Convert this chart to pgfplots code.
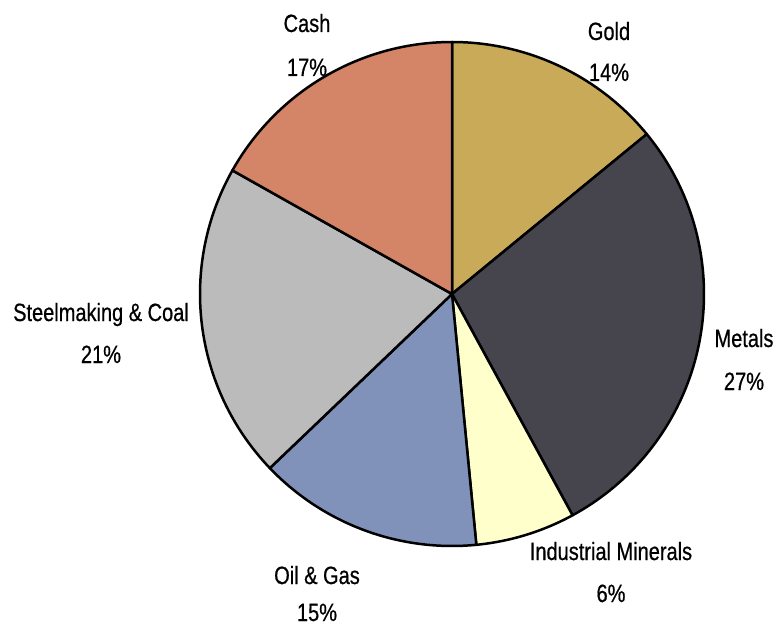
\documentclass[border=0pt]{standalone}
\usepackage{pgfplots}
\pgfplotsset{compat=1.18}
\usepackage{pgfplotstable}
\usepackage{fontspec}
\setmainfont{Liberation Sans}[FakeStretch=0.8, FakeBold=0.6]
\definecolor{cGold}{RGB}{200,170,88}
\definecolor{cMetals}{RGB}{70,69,77}
\definecolor{cInd}{RGB}{255,255,204}
\definecolor{cOil}{RGB}{128,146,185}
\definecolor{cSteel}{RGB}{187,187,187}
\definecolor{cCash}{RGB}{212,133,104}
% value = share drawn in the pie (percent); pct = printed label
\pgfplotstableread[col sep=comma]{
name,value,pct,col,nx,ny,px,py
Gold,14.06,14,cGold,609,585,609,544
Metals,28.0,27,cMetals,744,278,744,235
Industrial Minerals,6.4,6,cInd,611,65,611,23
Oil \& Gas,14.4,15,cOil,317,41,317,4
Steelmaking \& Coal,20.3,21,cSteel,101,304,101,262
Cash,16.84,17,cCash,307,593,307,549
}\slices
\begin{document}
\begin{tikzpicture}
\begin{axis}[
  x=1pt, y=1pt, xmin=0, xmax=775, ymin=0, ymax=625,
  hide axis, clip=false, scale only axis]
\path (axis cs:0,0) rectangle (axis cs:775,625);
\def\cum{0}
\pgfplotsforeachungrouped \i in {0,...,5}{%
  \pgfplotstablegetelem{\i}{value}\of\slices \let\v\pgfplotsretval
  \pgfplotstablegetelem{\i}{col}\of\slices \let\c\pgfplotsretval
  \pgfplotstablegetelem{\i}{name}\of\slices \let\nm\pgfplotsretval
  \pgfplotstablegetelem{\i}{pct}\of\slices \let\pc\pgfplotsretval
  \pgfplotstablegetelem{\i}{nx}\of\slices \let\nx\pgfplotsretval
  \pgfplotstablegetelem{\i}{ny}\of\slices \let\ny\pgfplotsretval
  \pgfplotstablegetelem{\i}{px}\of\slices \let\px\pgfplotsretval
  \pgfplotstablegetelem{\i}{py}\of\slices \let\py\pgfplotsretval
  \pgfmathsetmacro\s{90-\cum*3.6}%
  \pgfmathsetmacro\e{90-(\cum+\v)*3.6}%
  \pgfmathsetmacro\newcum{\cum+\v}%
  \global\let\cum\newcum
  \edef\cmd{%
    \noexpand\filldraw[fill=\c, draw=black, line width=2.5pt, line join=round]
      (axis cs:452,331) -- ++(\s:252pt) arc[start angle=\s, end angle=\e, radius=252pt] -- cycle;
    \noexpand\node[anchor=base, inner sep=0pt, font=\noexpand\fontsize{25}{28}\noexpand\selectfont] at (axis cs:\nx,\ny) {\nm};
    \noexpand\node[anchor=base, inner sep=0pt, font=\noexpand\fontsize{25}{28}\noexpand\selectfont] at (axis cs:\px,\py) {\pc\noexpand\%};
  }%
  \cmd
}
\end{axis}
\end{tikzpicture}
\end{document}
